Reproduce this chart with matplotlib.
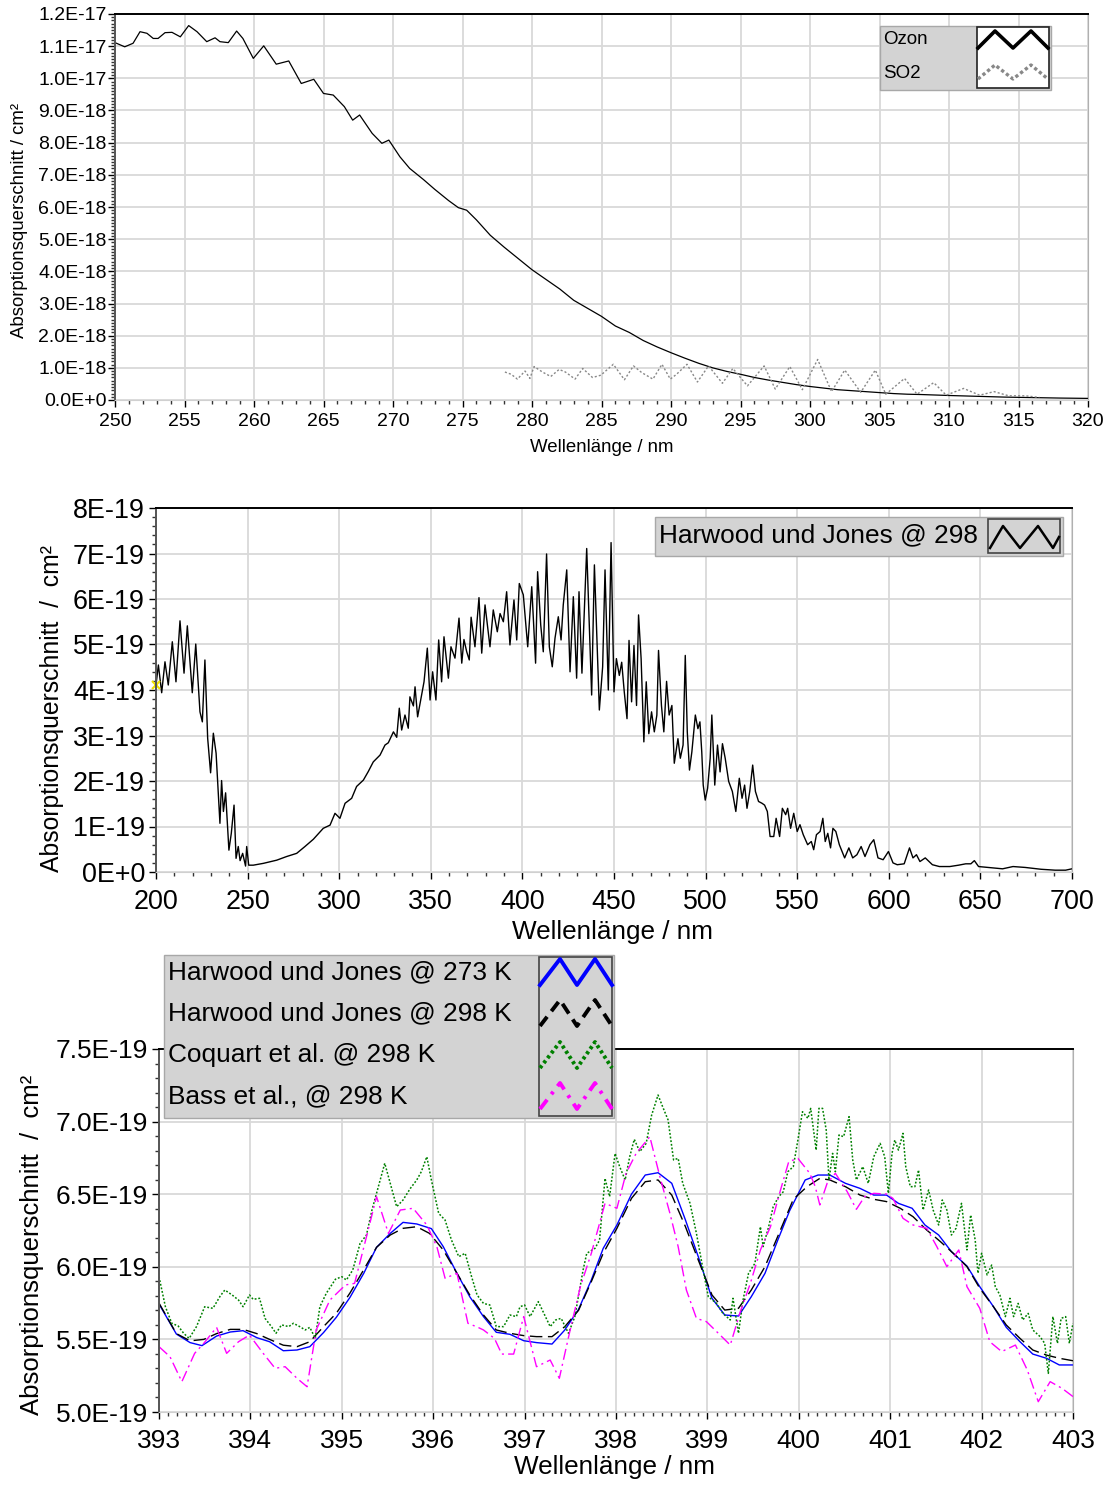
import numpy as np
import matplotlib
matplotlib.use("Agg")
import matplotlib.pyplot as plt
from matplotlib.ticker import MultipleLocator, AutoMinorLocator, FuncFormatter
from matplotlib.lines import Line2D
from matplotlib.patches import Rectangle

plt.rcParams['font.family'] = ['Liberation Sans', 'DejaVu Sans']

# ---------------- data: panel 1 (Ozone / SO2, units 1E-18 cm^2) ----------------
ozon_wl = [250.0, 250.7, 251.3, 251.8, 252.3, 252.75, 253.1, 253.6, 254.1, 254.7, 255.3, 255.9,
           256.6, 257.2, 257.55, 258.15, 258.75, 259.2, 259.95, 260.7, 261.6, 262.5, 263.4, 264.3,
           265.0, 265.7, 266.5, 267.1, 267.6, 268.5, 269.2, 269.7, 270.5, 271.2, 272.2, 273.0,
           274.0, 274.7, 275.3, 276.0, 277.0, 278.0, 279.0, 280.0, 281.0, 282.0, 283.0, 284.0,
           285.0, 286.0, 287.0, 288.0, 289.0, 290.0, 291.0, 292.0, 293.0, 294.0, 295.0, 296.0,
           297.0, 298.0, 299.0, 300.0, 301.0, 302.0, 303.0, 304.0, 305.0, 306.0, 307.0, 308.0,
           309.0, 310.0, 312.0, 314.0, 316.0, 318.0, 320.0]
ozon_val = [11.11, 10.98, 11.09, 11.45, 11.40, 11.24, 11.24, 11.42, 11.43, 11.29, 11.64, 11.45,
            11.14, 11.26, 11.14, 11.11, 11.47, 11.24, 10.62, 11.01, 10.44, 10.54, 9.84, 9.97,
            9.53, 9.48, 9.12, 8.70, 8.86, 8.29, 7.98, 8.08, 7.56, 7.20, 6.85, 6.55,
            6.20, 5.98, 5.90, 5.60, 5.12, 4.75, 4.40, 4.05, 3.75, 3.45, 3.10, 2.85,
            2.60, 2.30, 2.10, 1.85, 1.65, 1.47, 1.30, 1.14, 1.00, 0.89, 0.80, 0.70,
            0.62, 0.55, 0.48, 0.42, 0.37, 0.32, 0.29, 0.26, 0.23, 0.20, 0.18, 0.17,
            0.155, 0.14, 0.115, 0.09, 0.075, 0.06, 0.05]

so2_wl = [278.05, 278.5, 278.95, 279.5, 279.85, 280.15, 280.75, 281.35, 281.95, 282.4, 283.1,
          283.65, 284.35, 284.95, 285.85, 286.65, 287.3, 287.9, 288.7, 289.35, 289.95, 290.4,
          291.15, 291.9, 292.7, 293.7, 294.45, 295.5, 296.7, 297.5, 298.55, 299.45, 300.55,
          301.55, 302.5, 303.65, 304.7, 305.45, 306.8, 307.7, 308.9, 309.8, 311.05, 312.2,
          313.25, 314.3, 315.5, 316.5]
so2_val = [0.87, 0.80, 0.65, 0.90, 0.67, 1.04, 0.87, 0.73, 0.95, 0.87, 0.65,
           0.98, 0.70, 0.77, 1.11, 0.63, 1.06, 0.85, 0.65, 1.11, 0.65, 0.80,
           1.11, 0.56, 1.06, 0.52, 0.98, 0.44, 1.06, 0.34, 1.04, 0.32, 1.26,
           0.26, 0.93, 0.24, 0.93, 0.18, 0.67, 0.18, 0.54, 0.15, 0.36, 0.15,
           0.26, 0.13, 0.13, 0.08]

# ---------------- data: panel 2 (Harwood & Jones 298 K, units 1E-19 cm^2) ----------------
hj_wl = [200.0, 201.3, 203.1, 204.9, 206.7, 208.9, 210.9, 213.1, 215.3, 217.1, 219.8, 221.7,
         224.0, 225.3, 226.7, 228.2, 229.8, 231.3, 232.8, 234.9, 235.8, 236.8, 238.0, 239.8,
         241.1, 242.6, 243.7, 244.9, 245.9, 247.3, 248.9, 249.5, 250.6, 253.1, 258.6, 265.9,
         271.3, 276.8, 281.3, 285.9, 291.3, 295.0, 297.7, 300.4, 303.2, 306.8, 309.5, 313.2,
         315.9, 318.6, 322.3, 325.0, 326.8, 329.6, 331.4, 332.8, 334.1, 335.9, 337.7, 338.6,
         340.5, 341.4, 342.8, 344.5, 346.3, 348.1, 349.6, 351.0, 352.8, 354.3, 355.9, 357.2,
         359.6, 361.0, 363.2, 365.4, 366.9, 368.1, 369.6, 371.0, 372.0, 374.1, 376.3, 377.8,
         379.6, 382.3, 384.1, 386.3, 387.8, 389.6, 391.4, 393.2, 395.4, 396.9, 398.3, 400.5,
         402.9, 405.1, 407.2, 408.3, 410.0, 411.4, 413.2, 414.7, 416.3, 417.8, 419.6, 421.1,
         422.3, 424.2, 426.0, 427.8, 429.6, 430.9, 432.5, 435.1, 437.8, 439.3, 442.0, 443.8,
         445.1, 446.9, 448.4, 450.0, 451.3, 452.9, 454.2, 455.6, 457.1, 458.2, 459.6, 460.9,
         462.3, 463.4, 464.8, 466.3, 467.6, 469.0, 470.5, 472.0, 473.4, 474.3, 475.9, 477.2,
         478.7, 480.1, 481.6, 482.9, 484.9, 486.2, 487.7, 488.9, 490.0, 491.2, 492.5, 494.4,
         495.8, 496.9, 497.9, 498.7, 499.8, 501.1, 502.5, 503.4, 505.0, 506.5, 507.9, 509.2,
         510.7, 512.6, 514.6, 516.5, 518.4, 519.9, 521.3, 522.6, 524.1, 525.7, 527.2, 528.9,
         530.8, 532.2, 533.7, 535.2, 537.2, 538.5, 540.4, 541.9, 543.7, 544.8, 546.4, 548.1,
         550.0, 551.5, 553.3, 555.7, 557.7, 559.0, 560.5, 562.5, 564.0, 565.3, 566.7, 568.2,
         569.5, 571.1, 573.0, 575.9, 578.2, 580.3, 582.6, 584.9, 587.0, 589.7, 591.8, 594.1,
         596.9, 599.8, 602.3, 604.6, 608.4, 611.3, 613.2, 615.1, 617.0, 619.9, 623.8, 627.6,
         633.3, 638.1, 642.0, 644.8, 646.7, 649.0, 654.4, 662.1, 667.8, 674.5, 683.1, 690.8,
         696.5, 700.0]
hj_val = [4.11, 4.55, 3.94, 4.62, 4.11, 5.06, 4.18, 5.52, 4.37, 5.41, 3.94, 5.01,
          3.52, 3.30, 4.66, 2.94, 2.18, 3.05, 2.61, 1.07, 2.01, 1.33, 1.74, 0.48,
          0.85, 1.47, 0.30, 0.56, 0.25, 0.41, 0.13, 0.56, 0.15, 0.15, 0.19, 0.26,
          0.34, 0.41, 0.56, 0.72, 0.96, 1.03, 1.29, 1.18, 1.51, 1.62, 1.88, 2.02,
          2.21, 2.42, 2.57, 2.79, 2.84, 3.08, 2.96, 3.60, 3.12, 3.45, 3.16, 3.85,
          3.65, 4.07, 3.41, 3.78, 4.18, 4.92, 3.78, 4.40, 3.78, 5.10, 4.18, 5.17,
          4.26, 4.95, 4.70, 5.58, 4.59, 5.11, 4.84, 4.66, 5.60, 4.95, 6.03, 4.81,
          5.87, 4.95, 5.76, 5.28, 5.68, 5.50, 6.16, 4.99, 5.98, 5.10, 6.34, 6.09,
          4.95, 6.27, 4.59, 6.60, 5.43, 4.84, 6.99, 4.95, 4.51, 5.14, 5.61, 5.10,
          5.87, 6.64, 4.40, 6.05, 4.26, 6.16, 4.37, 7.11, 3.89, 6.75, 3.56, 4.51,
          6.64, 4.00, 7.24, 3.96, 4.69, 4.32, 4.61, 3.96, 3.37, 5.09, 3.74, 4.98,
          3.66, 5.65, 4.69, 2.86, 4.18, 3.04, 3.52, 3.08, 3.45, 4.87, 3.66, 3.08,
          4.19, 3.45, 3.66, 2.39, 2.93, 2.50, 2.79, 4.76, 3.08, 2.24, 2.64, 3.45,
          3.15, 3.30, 2.64, 1.91, 1.58, 1.84, 2.50, 3.45, 1.91, 2.79, 2.20, 2.82,
          2.50, 1.99, 1.77, 1.33, 2.06, 1.62, 1.91, 1.40, 1.77, 2.35, 1.77, 1.55,
          1.51, 1.47, 1.33, 0.78, 0.78, 1.18, 0.78, 1.40, 1.26, 1.40, 0.96, 1.29,
          0.89, 1.04, 0.82, 0.60, 0.67, 0.49, 0.82, 0.89, 1.18, 0.67, 0.85, 0.53,
          0.96, 0.89, 0.60, 0.31, 0.53, 0.31, 0.38, 0.56, 0.34, 0.60, 0.71, 0.31,
          0.27, 0.45, 0.20, 0.16, 0.18, 0.53, 0.31, 0.38, 0.23, 0.31, 0.16, 0.12,
          0.12, 0.15, 0.18, 0.18, 0.25, 0.12, 0.10, 0.07, 0.12, 0.10, 0.06, 0.04,
          0.04, 0.07]

# ---------------- data: panel 3 (units 1E-19 cm^2) ----------------
hj273_wl = [393.00, 393.19, 393.34, 393.47, 393.63, 393.78, 393.92, 394.07, 394.21, 394.36, 394.51,
            394.65, 394.80, 394.94, 395.09, 395.24, 395.38, 395.53, 395.67, 395.82, 395.98, 396.11,
            396.26, 396.40, 396.55, 396.69, 396.84, 396.99, 397.13, 397.30, 397.44, 397.59, 397.73,
            397.86, 398.01, 398.17, 398.32, 398.46, 398.61, 398.76, 398.90, 399.05, 399.19, 399.34,
            399.48, 399.63, 399.77, 399.90, 400.07, 400.21, 400.34, 400.51, 400.67, 400.82, 400.96,
            401.09, 401.24, 401.38, 401.53, 401.67, 401.84, 401.98, 402.13, 402.27, 402.42, 402.56,
            402.71, 402.85, 403.00]
hj273_val = [5.744, 5.537, 5.478, 5.457, 5.523, 5.551, 5.560, 5.512, 5.484, 5.422, 5.427,
             5.450, 5.547, 5.652, 5.790, 5.955, 6.134, 6.230, 6.306, 6.295, 6.263, 6.139,
             5.955, 5.794, 5.657, 5.549, 5.535, 5.491, 5.478, 5.468, 5.565, 5.707, 5.909,
             6.127, 6.288, 6.501, 6.632, 6.648, 6.575, 6.322, 6.070, 5.783, 5.668, 5.661,
             5.794, 5.955, 6.184, 6.387, 6.598, 6.632, 6.632, 6.575, 6.540, 6.494, 6.494,
             6.437, 6.403, 6.288, 6.219, 6.104, 6.005, 5.863, 5.725, 5.583, 5.484, 5.399,
             5.370, 5.324, 5.324]

hj298_wl = [393.00, 393.19, 393.34, 393.49, 393.63, 393.78, 393.92, 394.07, 394.21, 394.36, 394.51,
            394.65, 394.80, 394.94, 395.09, 395.24, 395.38, 395.53, 395.67, 395.82, 395.96, 396.11,
            396.26, 396.40, 396.55, 396.69, 396.84, 396.99, 397.13, 397.30, 397.44, 397.59, 397.73,
            397.86, 398.01, 398.17, 398.32, 398.46, 398.61, 398.76, 398.90, 399.05, 399.19, 399.34,
            399.48, 399.63, 399.77, 399.94, 400.09, 400.23, 400.34, 400.51, 400.67, 400.82, 400.96,
            401.11, 401.25, 401.40, 401.55, 401.69, 401.84, 401.98, 402.13, 402.27, 402.42, 402.56,
            402.71, 402.85, 403.00]
hj298_val = [5.750, 5.540, 5.490, 5.500, 5.540, 5.569, 5.569, 5.540, 5.500, 5.460, 5.450,
             5.484, 5.588, 5.680, 5.820, 5.980, 6.134, 6.219, 6.265, 6.276, 6.230, 6.116,
             5.955, 5.806, 5.668, 5.565, 5.542, 5.526, 5.519, 5.519, 5.588, 5.700, 5.898,
             6.093, 6.265, 6.472, 6.586, 6.598, 6.494, 6.276, 6.047, 5.806, 5.702, 5.714,
             5.840, 6.001, 6.210, 6.465, 6.552, 6.609, 6.598, 6.552, 6.494, 6.465, 6.449,
             6.403, 6.345, 6.253, 6.173, 6.093, 6.001, 5.852, 5.725, 5.599, 5.507, 5.427,
             5.392, 5.370, 5.353]

coq_wl = [393.00, 393.07, 393.14, 393.21, 393.27, 393.33, 393.41, 393.50, 393.59, 393.67, 393.72,
          393.80, 393.87, 393.92, 393.99, 394.03, 394.10, 394.16, 394.23, 394.28, 394.34, 394.42,
          394.47, 394.54, 394.60, 394.65, 394.71, 394.76, 394.83, 394.93, 395.00, 395.05, 395.12,
          395.20, 395.27, 395.33, 395.40, 395.47, 395.53, 395.60, 395.67, 395.75, 395.82, 395.87,
          395.93, 395.98, 396.06, 396.13, 396.20, 396.28, 396.35, 396.42, 396.48, 396.55, 396.62,
          396.69, 396.77, 396.84, 396.91, 396.95, 397.00, 397.06, 397.15, 397.22, 397.28, 397.34,
          397.40, 397.48, 397.55, 397.64, 397.68, 397.77, 397.82, 397.88, 397.93, 397.99, 398.04,
          398.10, 398.15, 398.20, 398.26, 398.33, 398.39, 398.46, 398.51, 398.57, 398.63, 398.68,
          398.73, 398.81, 398.88, 398.96, 399.01, 399.10, 399.17, 399.25, 399.28, 399.34, 399.39,
          399.45, 399.52, 399.58, 399.61, 399.67, 399.72, 399.78, 399.83, 399.88, 399.94, 399.99,
          400.04, 400.10, 400.13, 400.19, 400.22, 400.26, 400.30, 400.33, 400.37, 400.40, 400.44,
          400.49, 400.55, 400.59, 400.63, 400.70, 400.76, 400.82, 400.89, 400.94, 400.98, 401.02,
          401.05, 401.09, 401.14, 401.17, 401.22, 401.27, 401.31, 401.36, 401.42, 401.47, 401.53,
          401.57, 401.62, 401.67, 401.72, 401.78, 401.84, 401.88, 401.93, 401.96, 402.00, 402.06,
          402.11, 402.15, 402.20, 402.26, 402.31, 402.35, 402.40, 402.45, 402.51, 402.56, 402.64,
          402.69, 402.73, 402.78, 402.83, 402.87, 402.92, 402.96, 403.00]
coq_val = [5.932, 5.725, 5.611, 5.592, 5.542, 5.507, 5.588, 5.725, 5.714, 5.799, 5.840,
           5.806, 5.771, 5.725, 5.806, 5.776, 5.783, 5.645, 5.588, 5.542, 5.600, 5.588,
           5.611, 5.588, 5.565, 5.583, 5.507, 5.725, 5.817, 5.914, 5.932, 5.909, 5.978,
           6.161, 6.219, 6.391, 6.552, 6.713, 6.575, 6.414, 6.460, 6.540, 6.598, 6.655,
           6.758, 6.598, 6.368, 6.322, 6.184, 6.070, 6.093, 5.932, 5.806, 5.748, 5.737,
           5.588, 5.588, 5.668, 5.657, 5.725, 5.737, 5.657, 5.760, 5.668, 5.588, 5.634,
           5.645, 5.542, 5.657, 5.978, 6.093, 6.127, 6.184, 6.609, 6.483, 6.781, 6.690,
           6.598, 6.758, 6.878, 6.793, 6.850, 7.045, 7.183, 7.103, 7.011, 6.736, 6.747,
           6.575, 6.437, 6.230, 5.955, 5.794, 5.748, 5.679, 5.634, 5.783, 5.542, 5.771,
           5.955, 6.024, 6.276, 6.139, 6.276, 6.414, 6.483, 6.517, 6.655, 6.690, 6.873,
           7.068, 7.022, 7.091, 6.804, 7.091, 7.091, 6.942, 6.598, 6.781, 6.655, 6.908,
           6.896, 7.034, 6.736, 6.598, 6.690, 6.575, 6.758, 6.850, 6.758, 6.506, 6.781,
           6.873, 6.804, 6.919, 6.690, 6.552, 6.552, 6.667, 6.391, 6.529, 6.391, 6.288,
           6.460, 6.391, 6.219, 6.265, 6.437, 6.116, 6.357, 6.184, 5.955, 6.093, 5.944,
           6.012, 5.863, 5.806, 5.657, 5.783, 5.657, 5.748, 5.634, 5.679, 5.565, 5.519,
           5.473, 5.266, 5.657, 5.473, 5.645, 5.657, 5.473, 5.611]

bass_wl = [393.00, 393.12, 393.25, 393.39, 393.49, 393.63, 393.74, 393.87, 393.99, 394.14, 394.27,
           394.38, 394.51, 394.62, 394.72, 394.87, 395.04, 395.14, 395.27, 395.38, 395.51, 395.64,
           395.78, 395.93, 396.04, 396.13, 396.26, 396.38, 396.49, 396.55, 396.67, 396.75, 396.88,
           396.99, 397.13, 397.28, 397.38, 397.49, 397.61, 397.73, 397.88, 398.01, 398.11, 398.22,
           398.37, 398.48, 398.59, 398.68, 398.77, 398.88, 398.99, 399.12, 399.25, 399.36, 399.47,
           399.58, 399.69, 399.80, 399.89, 399.99, 400.12, 400.18, 400.23, 400.31, 400.40, 400.53,
           400.63, 400.72, 400.82, 400.96, 401.03, 401.14, 401.25, 401.40, 401.51, 401.62, 401.75,
           401.84, 401.98, 402.09, 402.22, 402.37, 402.50, 402.62, 402.75, 402.88, 403.00]
bass_val = [5.450, 5.381, 5.209, 5.404, 5.473, 5.583, 5.404, 5.484, 5.530, 5.404, 5.301,
            5.312, 5.232, 5.174, 5.565, 5.771, 5.875, 5.886, 6.207, 6.483, 6.230, 6.391,
            6.403, 6.288, 6.139, 5.921, 5.955, 5.611, 5.583, 5.565, 5.507, 5.399, 5.399,
            5.657, 5.312, 5.358, 5.232, 5.542, 5.863, 6.093, 6.437, 6.403, 6.644, 6.781,
            6.896, 6.621, 6.368, 6.139, 5.840, 5.645, 5.622, 5.542, 5.461, 5.691, 5.886,
            6.116, 6.276, 6.529, 6.724, 6.747, 6.644, 6.552, 6.426, 6.575, 6.644, 6.517,
            6.396, 6.483, 6.506, 6.501, 6.471, 6.334, 6.288, 6.265, 6.139, 6.001, 6.116,
            5.863, 5.714, 5.484, 5.416, 5.461, 5.289, 5.071, 5.209, 5.163, 5.106]

legend1 = ["Ozon", "SO2"]
legend2 = ["Harwood und Jones @ 298"]
legend3 = ["Harwood und Jones @ 273 K", "Harwood und Jones @ 298 K",
           "Coquart et al. @ 298 K", "Bass et al., @ 298 K"]
xlabel = "Wellenlänge / nm"
ylabel1 = "Absorptionsquerschnitt / cm²"
ylabel2 = "Absorptionsquerschnitt  /  cm²"

# ---------------- figure ----------------
W, H = 1108, 1488
fig = plt.figure(figsize=(W / 100, H / 100), dpi=100)
fig.patch.set_facecolor('white')


def fx(x):
    return x / W


def fy(y):
    return 1 - y / H


def make_axes(l, t, r, b):
    return fig.add_axes([fx(l), fy(b), fx(r) - fx(l), fy(t) - fy(b)])


def sci_fmt(dec):
    def f(v, pos):
        if abs(v) < 1e-30:
            return "0.0E+0" if dec else "0E+0"
        e = int(np.floor(np.log10(abs(v)) + 1e-9))
        m = v / 10.0 ** e
        return f"{m:.{dec}f}E{e}"
    return FuncFormatter(f)


GRID = '#d9d9d9'


def style_axes(ax, fs, xmaj, xmin_n, ymaj, ymin_n, dec, xpad, ypad):
    ax.xaxis.set_major_locator(MultipleLocator(xmaj))
    ax.xaxis.set_minor_locator(AutoMinorLocator(xmin_n))
    ax.yaxis.set_major_locator(MultipleLocator(ymaj))
    ax.yaxis.set_minor_locator(AutoMinorLocator(ymin_n))
    ax.yaxis.set_major_formatter(sci_fmt(dec))
    ax.grid(True, which='major', color=GRID, lw=1.3)
    ax.set_axisbelow(True)
    ax.tick_params(which='major', direction='out', length=5, width=1, labelsize=fs, colors='black')
    ax.tick_params(which='minor', direction='out', length=3, width=1, colors='#333333')
    ax.tick_params(axis='x', which='major', pad=xpad)
    ax.tick_params(axis='y', which='major', pad=ypad)
    ax.spines['top'].set_color('black')
    ax.spines['top'].set_linewidth(1.4)
    ax.spines['left'].set_color('#555555')
    ax.spines['left'].set_linewidth(1.4)
    ax.spines['right'].set_color('#b0b0b0')
    ax.spines['bottom'].set_color('#d0d0d0')


def zigzag(xs, ys, **kw):
    fig.add_artist(Line2D([fx(x) for x in xs], [fy(y) for y in ys],
                          transform=fig.transFigure, zorder=12, **kw))


def box(x0, y0, x1, y1, fc, ec, lw=1.0, z=10):
    fig.add_artist(Rectangle((fx(x0), fy(y1)), fx(x1) - fx(x0), fy(y0) - fy(y1),
                             transform=fig.transFigure, facecolor=fc, edgecolor=ec,
                             lw=lw, zorder=z))


# ---------------- panel 1 ----------------
ax1 = make_axes(115, 14, 1088, 400)
ax1.plot(ozon_wl, np.array(ozon_val) * 1e-18, color='black', lw=0.9)
ax1.plot(so2_wl, np.array(so2_val) * 1e-18, color='#888888', lw=1.0, ls=(0, (1.5, 1.5)))
ax1.set_xlim(250, 320)
ax1.set_ylim(0, 1.2e-17)
style_axes(ax1, 14, 5, 5, 1e-18, 10, 1, 4, 1)
ax1.set_xlabel(xlabel, fontsize=13.4)
ax1.xaxis.set_label_coords((602 - 115) / 973, (400 - 447) / 386)
ax1.xaxis.label.set_va('center')
ax1.set_ylabel(ylabel1, fontsize=13.4)
ax1.yaxis.set_label_coords((20 - 115) / 973, (400 - 220) / 386)
ax1.yaxis.label.set_va('center')

box(880, 26, 1051, 90, '#d3d3d3', '#a8a8a8')
box(977, 27, 1049, 88, 'white', '#222222', lw=1.2, z=11)
fig.text(fx(883), fy(40), legend1[0], fontsize=13.5, va='center', ha='left', zorder=12)
fig.text(fx(883), fy(73), legend1[1], fontsize=13.5, va='center', ha='left', zorder=12)
zigzag([978, 995, 1013, 1031, 1048], [48, 31, 48, 31, 48], color='black', lw=2.6)
zigzag([978, 995, 1013, 1031, 1048], [79, 65, 79, 65, 79], color='#888888', lw=2.4,
       ls=(0, (1.0, 0.8)))

# ---------------- panel 2 ----------------
ax2 = make_axes(156, 508, 1072, 872)
ax2.plot(hj_wl, np.array(hj_val) * 1e-19, color='black', lw=1.0)
ax2.plot([hj_wl[0]], [hj_val[0] * 1e-19], marker='x', color='#f0e000', ms=6, mew=1.5,
         clip_on=False)
ax2.set_xlim(200, 700)
ax2.set_ylim(0, 8e-19)
style_axes(ax2, 19.4, 50, 5, 1e-19, 5, 0, 7, 3)
ax2.set_xlabel(xlabel, fontsize=18.8)
ax2.xaxis.set_label_coords((613 - 156) / 916, (872 - 932) / 364)
ax2.xaxis.label.set_va('center')
ax2.set_ylabel(ylabel2, fontsize=17.8)
ax2.yaxis.set_label_coords((52 - 156) / 916, (872 - 708) / 364)
ax2.yaxis.label.set_va('center')

box(655, 517, 1063, 556, '#d3d3d3', '#a8a8a8')
box(988, 519, 1060, 553, '#d3d3d3', '#444444', lw=1.2, z=11)
fig.text(fx(659), fy(535), legend2[0], fontsize=18.9, va='center', ha='left', zorder=12)
zigzag([990, 1003, 1020, 1038, 1053, 1059], [548, 526, 548, 526, 548, 537], color='black', lw=1.8)

# ---------------- panel 3 ----------------
ax3 = make_axes(159, 1049, 1073, 1412)
ax3.plot(hj273_wl, np.array(hj273_val) * 1e-19, color='#0000ff', lw=1.0)
ax3.plot(hj298_wl, np.array(hj298_val) * 1e-19, color='black', lw=1.0, ls=(0, (9, 4)))
ax3.plot(coq_wl, np.array(coq_val) * 1e-19, color='#008000', lw=1.1, ls=(0, (1.2, 1.2)))
ax3.plot(bass_wl, np.array(bass_val) * 1e-19, color='#ff00ff', lw=1.0, ls=(0, (8, 3, 1.5, 3)))
ax3.set_xlim(393, 403)
ax3.set_ylim(5.0e-19, 7.5e-19)
style_axes(ax3, 19, 1, 10, 0.5e-19, 5, 1, 7, 3)
ax3.set_xlabel(xlabel, fontsize=18.8)
ax3.xaxis.set_label_coords((614 - 159) / 914, (1412 - 1467) / 363)
ax3.xaxis.label.set_va('center')
ax3.set_ylabel(ylabel2, fontsize=18.5)
ax3.yaxis.set_label_coords((32 - 159) / 914, (1412 - 1245) / 363)
ax3.yaxis.label.set_va('center')

box(164, 955, 614, 1118, '#d3d3d3', '#a8a8a8')
box(539, 957, 612, 1116, '#d3d3d3', '#444444', lw=1.2, z=11)
rows = [972, 1013, 1055, 1096]
styles = [dict(color='#0000ff', lw=2.8),
          dict(color='black', lw=2.8, ls=(0, (3, 1.8))),
          dict(color='#008000', lw=2.8, ls=(0, (0.8, 0.8))),
          dict(color='#ff00ff', lw=2.8, ls=(0, (3, 1.8, 0.8, 1.8)))]
for lab, c, st in zip(legend3, rows, styles):
    fig.text(fx(168), fy(c), lab, fontsize=18.9, va='center', ha='left', zorder=12)
    zigzag([540, 560, 577, 595, 612], [c + 13, c - 13, c + 13, c - 13, c + 13], **st)

fig.savefig("out.png", dpi=100, facecolor='white')
